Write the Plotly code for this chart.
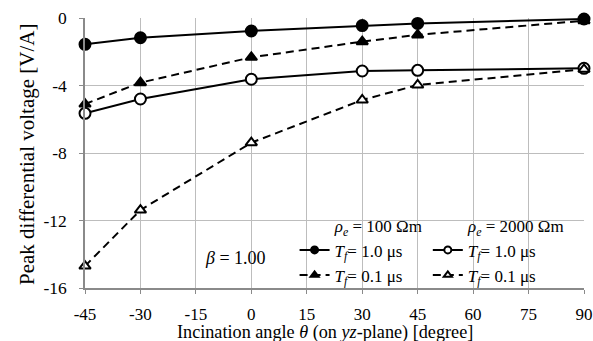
import plotly.graph_objects as go

angles = [-45, -30, 0, 30, 45, 90]
rho100_tf10 = [-1.56, -1.17, -0.77, -0.45, -0.32, -0.06]
rho100_tf01 = [-5.1, -3.83, -2.33, -1.4, -1.0, -0.16]
rho2000_tf10 = [-5.65, -4.8, -3.63, -3.14, -3.1, -2.98]
rho2000_tf01 = [-14.7, -11.38, -7.39, -4.86, -3.97, -3.04]

x_ticks = [-45, -30, -15, 0, 15, 30, 45, 60, 75, 90]
y_ticks = [0, -4, -8, -12, -16]

FONT = "Liberation Serif"
DASH = "8px,5px"

fig = go.Figure()

def add(y, name, symbol, filled, dash, legend):
    size = 11 if symbol == "circle" else 10
    fill = "black" if filled else "white"
    fig.add_trace(go.Scatter(
        x=angles, y=y, mode="lines+markers", showlegend=False,
        cliponaxis=False,
        line=dict(color="black", width=2, dash=dash),
        marker=dict(symbol=symbol, size=size, color=fill,
                    line=dict(color="black", width=2)),
    ))
    # legend entry (smaller symbol, like the reference legend)
    fig.add_trace(go.Scatter(
        x=[None], y=[None], mode="lines+markers", name=name, legend=legend,
        line=dict(color="black", width=2, dash=dash),
        marker=dict(symbol=symbol, size=7, color=fill,
                    line=dict(color="black", width=2)),
    ))

tf10 = "<i>T</i><sub><i>f</i></sub>= 1.0 μs"
tf01 = "<i>T</i><sub><i>f</i></sub>= 0.1 μs"
add(rho100_tf10, tf10, "circle", True, "solid", "legend")
add(rho100_tf01, tf01, "triangle-up", True, DASH, "legend")
add(rho2000_tf10, tf10, "circle", False, "solid", "legend2")
add(rho2000_tf01, tf01, "triangle-up", False, DASH, "legend2")

lfont = dict(family=FONT, size=17, color="black")
leg_common = dict(bgcolor="rgba(0,0,0,0)", font=lfont,
                  itemwidth=30, tracegroupgap=0, yanchor="top", xanchor="left",
                  itemclick=False)
pad = "&nbsp;" * 9

fig.update_layout(
    width=593, height=341,
    margin=dict(l=85, r=9, t=18, b=53),
    paper_bgcolor="white", plot_bgcolor="white",
    font=dict(family=FONT, size=17, color="black"),
    showlegend=True,
    legend=dict(x=0.42, y=0.288, title=dict(text=pad + "<i>ρ</i><sub><i>e</i></sub> = 100 Ωm", side="top", font=lfont), **leg_common),
    legend2=dict(x=0.687, y=0.288, title=dict(text=pad + "<i>ρ</i><sub><i>e</i></sub> = 2000 Ωm", side="top", font=lfont), **leg_common),
    xaxis=dict(range=[-45, 90], tickvals=x_ticks, ticktext=[str(v) for v in x_ticks],
               automargin=False,
               showgrid=True, gridcolor="#bdbdbd", gridwidth=1,
               showline=True, linecolor="#8a8a8a", linewidth=1.5,
               ticks="outside", ticklen=4, tickcolor="#8a8a8a",
               ticklabelstandoff=6,
               zeroline=False, tickfont=dict(family=FONT, size=17)),
    yaxis=dict(range=[-16, 0], tickvals=y_ticks, ticktext=[str(v) for v in y_ticks],
               automargin=False,
               showgrid=True, gridcolor="#bdbdbd", gridwidth=1,
               showline=True, linecolor="#8a8a8a", linewidth=1.5,
               ticks="outside", ticklen=4, tickcolor="#8a8a8a",
               ticklabelstandoff=9,
               zeroline=False, tickfont=dict(family=FONT, size=17.5)),
)

# axis titles
fig.add_annotation(x=0.48, y=0, xref="paper", yref="paper", yshift=-44,
                   xanchor="center", yanchor="middle", showarrow=False,
                   text="Incination angle <i>θ</i> (on <i>yz</i>-plane) [degree]",
                   font=dict(family=FONT, size=18.2, color="black"))
fig.add_annotation(x=0, y=0.4926, xref="paper", yref="paper", xshift=-58,
                   xanchor="center", yanchor="middle", showarrow=False, textangle=-90,
                   text="Peak differential voltage [V/A]",
                   font=dict(family=FONT, size=21, color="black"))

fig.add_annotation(x=-4.4, y=-14.22, xref="x", yref="y", text="<i>β</i> = 1.00",
                   showarrow=False, font=dict(family=FONT, size=18, color="black"))

fig.write_html("out.html")
